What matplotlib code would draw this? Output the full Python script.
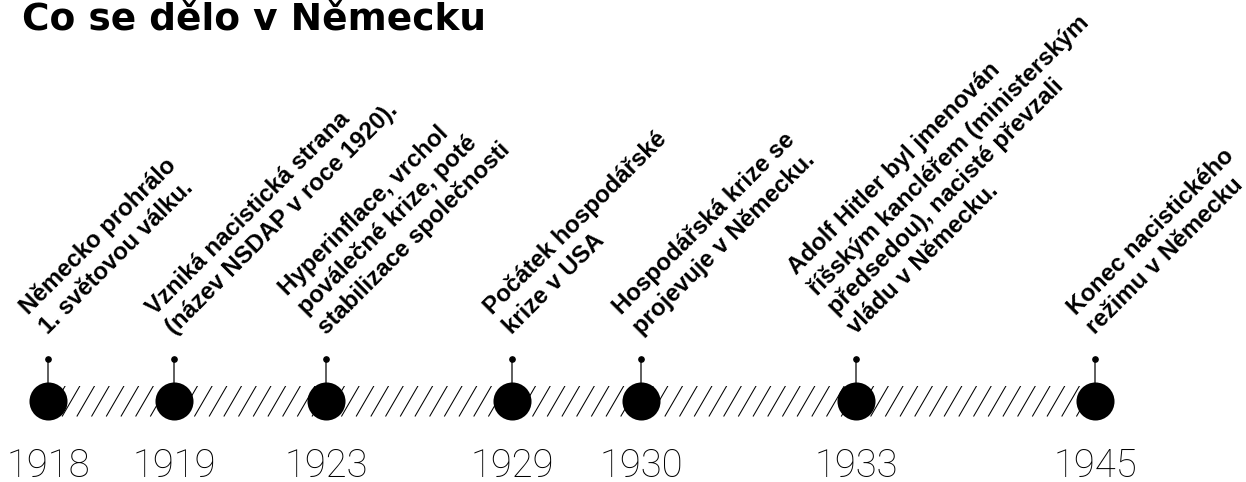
import numpy as np
import matplotlib.pyplot as plt
from matplotlib.patches import Rectangle

# timeline data
years = ['1918', '1919', '1923', '1929', '1930', '1933', '1945']
events = [
    'Německo prohrálo\n1. světovou válku.',
    'Vzniká nacistická strana\n(název NSDAP v roce 1920).',
    'Hyperinflace, vrchol\npoválečné krize, poté\nstabilizace společnosti',
    'Počátek hospodářské\nkrize v USA',
    'Hospodářská krize se\nprojevuje v Německu.',
    'Adolf Hitler byl jmenován\nříšským kancléřem (ministerským\npředsedou), nacisté převzali\nvládu v Německu.',
    'Konec nacistického\nrežimu v Německu',
]
title = 'Co se dělo v Německu'

# layout (pixel-like coordinates of the canvas)
slots = [48, 174, 326, 512, 641, 856, 1095]
line_y = 401
bar_h = 31
stem_top = 359

fig = plt.figure(figsize=(12.46, 4.82), dpi=100)
ax = fig.add_axes([0, 0, 1, 1])
ax.set_xlim(0, 1246)
ax.set_ylim(482, 0)
ax.axis('off')

# hatched bar between first and last event
bar = Rectangle((slots[0], line_y - bar_h / 2), slots[-1] - slots[0], bar_h,
                facecolor='white', edgecolor='none', zorder=1)
ax.add_patch(bar)
for x0 in np.arange(slots[0] - 30, slots[-1] + 15, 14.7):
    ln, = ax.plot([x0, x0 + 18], [line_y + bar_h / 2, line_y - bar_h / 2],
                  color='black', lw=0.75, zorder=2, solid_capstyle='butt')
    ln.set_clip_path(bar)

# stems, dots and circles
for x in slots:
    ax.plot([x, x], [stem_top, line_y], color='#333333', lw=1.1, zorder=3)
    ax.plot(x, stem_top, 'o', color='black', ms=3.8, zorder=4)
ax.scatter(slots, [line_y] * len(slots), s=750, color='black', zorder=5,
           linewidths=0)

# event labels, rotated
for x, txt in zip(slots, events):
    ax.text(x + 4, 339, txt, rotation=45, rotation_mode='anchor',
            ha='left', va='bottom', multialignment='left', linespacing=1.27,
            fontsize=17.3, fontweight='bold', family='Liberation Sans',
            color='black')

# year labels
for x, yr in zip(slots, years):
    ax.text(x, 477, yr, ha='center', va='baseline', fontsize=27.5,
            family='Roboto', fontweight='light', color='black')

ax.text(22, 29, title, ha='left', va='baseline', fontsize=27,
        fontweight='bold', family='DejaVu Sans', color='black')

fig.savefig('out.png', dpi=100, facecolor='white')
